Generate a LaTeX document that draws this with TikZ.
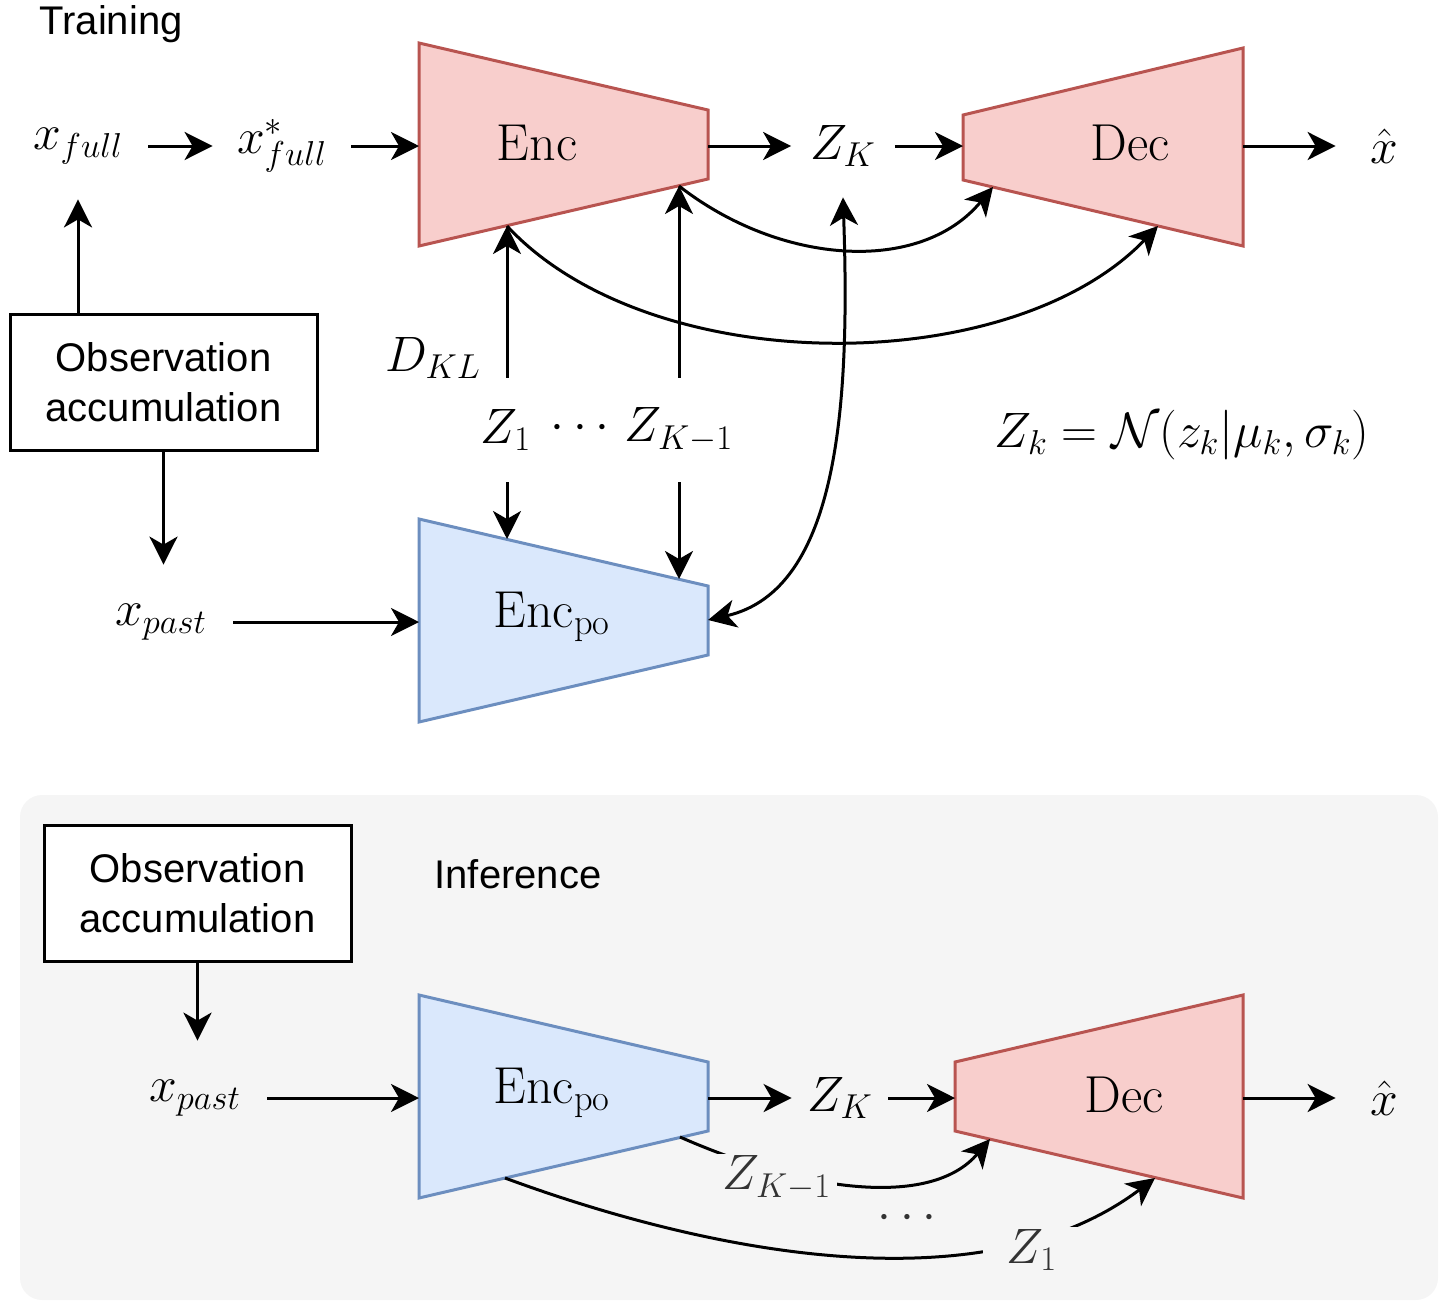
\documentclass[tikz,border=0pt]{standalone}
\usepackage{fontspec}
\newfontfamily\sansf{Liberation Sans}
\usetikzlibrary{arrows.meta}
\definecolor{encfill}{HTML}{F8CECC}
\definecolor{encdraw}{HTML}{B85450}
\definecolor{pofill}{HTML}{DAE8FC}
\definecolor{podraw}{HTML}{6C8EBF}
\definecolor{bggray}{HTML}{F5F5F5}
\definecolor{lblgray}{HTML}{333333}
\begin{document}
\begin{tikzpicture}[x=0.5pt,y=-0.5pt,
  tip/.tip={Stealth[length=14pt,width=14pt,inset=4pt]},
  arr/.style={line width=1.5pt,-tip},
  dblarr/.style={line width=1.5pt,tip-tip},
  mlbl/.style={font=\fontsize{26}{30}\selectfont, inner sep=0pt},
  slbl/.style={font=\sansf\fontsize{20}{25}\selectfont},
  redtrap/.style={fill=encfill, draw=encdraw, line width=1.5pt},
  bluetrap/.style={fill=pofill, draw=podraw, line width=1.5pt},
  obsbox/.style={draw, fill=white, line width=1.5pt, minimum width=153.5pt, minimum height=68pt, align=center, font=\sansf\fontsize{20}{25}\selectfont}
]
\useasboundingbox (0,0) rectangle (1446,1307);

% inference background
\fill[bggray, rounded corners=11pt] (20,795) rectangle (1438,1300);

\node[slbl] (train) at (111,24) {Training};
\node[slbl] (infer) at (518,874) {Inference};

% ---------------- Training ----------------
\draw[redtrap] (419,43) -- (708,110) -- (708,179) -- (419,246) -- cycle;
\node[mlbl] (enc) at (537,143) {$\mathrm{Enc}$};
\coordinate (enc-in) at (419,146);
\coordinate (enc-out) at (708,146);
\coordinate (enc-b1) at (507,226);
\coordinate (enc-b2) at (679,186);

\draw[redtrap] (963,115) -- (1243,48) -- (1243,246) -- (963,180) -- cycle;
\node[mlbl] (dec) at (1130,143) {$\mathrm{Dec}$};
\coordinate (dec-in) at (963,146);
\coordinate (dec-out) at (1243,146);
\coordinate (dec-b1) at (993,187);
\coordinate (dec-b2) at (1158,226);

\draw[bluetrap] (419,519) -- (708,586) -- (708,655) -- (419,722) -- cycle;
\node[mlbl] (po1) at (552,617) {$\mathrm{Enc}_{\mathrm{po}}$};
\coordinate (po1-in) at (419,622);
\coordinate (po1-t1) at (507,539);
\coordinate (po1-t2) at (679,579);
\coordinate (po1-r) at (708,620);

\node[mlbl, minimum width=70pt, minimum height=53pt] (xfull) at (78,146) {$x_{full}$};
\node[mlbl, minimum width=69pt] (xfs) at (282,146) {$x^*_{full}$};
\node[mlbl, minimum width=51.5pt, minimum height=51pt] (zk) at (843,146) {$Z_K$};
\node[mlbl, minimum width=48pt] (xhat) at (1384,146) {$\hat{x}$};

\draw[arr] (xfull.east) -- (xfs.west);
\draw[arr] (xfs.east) -- (enc-in);
\draw[arr] (enc-out) -- (zk.west);
\draw[arr] (zk.east) -- (dec-in);
\draw[arr] (dec-out) -- (xhat.west);

\node[obsbox] (obs1) at (163.5,382) {Observation\\accumulation};
\node[mlbl, minimum width=72pt, minimum height=57pt] (xpast1) at (161,622) {$x_{past}$};
\draw[arr] (obs1.north -| xfull.south) -- (xfull.south);
\draw[arr] (obs1.south) -- (obs1.south |- xpast1.north);
\draw[arr] (xpast1.east) -- (po1-in);

\node[mlbl] (dkl) at (433,358) {$D_{KL}$};
\node[mlbl, minimum height=52pt] (z1) at (506,430) {$Z_1$};
\node[mlbl] (dots1) at (580,428) {$\cdots$};
\node[mlbl, minimum height=52pt] (zk1) at (679,430) {$Z_{K-1}$};

\draw[arr] (z1.north -| enc-b1) -- (enc-b1);
\draw[arr] (zk1.north) -- (enc-b2);
\draw[arr] (z1.south -| po1-t1) -- (po1-t1);
\draw[arr] (zk1.south) -- (po1-t2);

\draw[arr] (enc-b2) .. controls (780,265) and (920,275) .. (dec-b1);
\draw[arr] (enc-b1) .. controls (650,380) and (1010,380) .. (dec-b2);
\draw[dblarr] (zk.south) .. controls (850,400) and (840,590) .. (po1-r);

\node[mlbl] (eq) at (1182,435) {$Z_k = \mathcal{N}(z_k|\mu_k,\sigma_k)$};

% ---------------- Inference ----------------
\node[obsbox] (obs2) at (197.5,893) {Observation\\accumulation};
\node[mlbl, minimum width=72pt, minimum height=57pt] (xpast2) at (195,1098) {$x_{past}$};

\draw[bluetrap] (419,995) -- (708,1062) -- (708,1131) -- (419,1198) -- cycle;
\node[mlbl] (po2) at (552,1093) {$\mathrm{Enc}_{\mathrm{po}}$};
\coordinate (po2-in) at (419,1098);
\coordinate (po2-out) at (708,1098);
\coordinate (po2-b1) at (505,1178);
\coordinate (po2-b2) at (680,1137);

\draw[redtrap] (955,1062) -- (1243,995) -- (1243,1198) -- (955,1131) -- cycle;
\node[mlbl] (dec2) at (1124,1095) {$\mathrm{Dec}$};
\coordinate (dec2-in) at (955,1098);
\coordinate (dec2-out) at (1243,1098);
\coordinate (dec2-b1) at (990,1139);
\coordinate (dec2-b2) at (1155,1178);

\node[mlbl, minimum width=48pt] (zk2) at (840,1098) {$Z_K$};
\node[mlbl, minimum width=48pt] (xhat2) at (1384,1098) {$\hat{x}$};

\draw[arr] (obs2.south) -- (obs2.south |- xpast2.north);
\draw[arr] (xpast2.east) -- (po2-in);
\draw[arr] (po2-out) -- (zk2.west);
\draw[arr] (zk2.east) -- (dec2-in);
\draw[arr] (dec2-out) -- (xhat2.west);

\draw[arr] (po2-b2) .. controls (800,1190) and (930,1210) .. (dec2-b1);
\draw[arr] (po2-b1) .. controls (700,1250) and (980,1310) .. (dec2-b2);

\node[mlbl, text=lblgray, fill=bggray, inner xsep=3pt, inner ysep=1pt] (zk1i) at (777,1178) {$Z_{K-1}$};
\node[mlbl, text=lblgray] (dots2) at (907,1218) {$\cdots$};
\node[mlbl, text=lblgray, fill=bggray, inner xsep=12pt, inner ysep=1pt] (z1i) at (1032,1250) {$Z_1$};
\end{tikzpicture}
\end{document}
